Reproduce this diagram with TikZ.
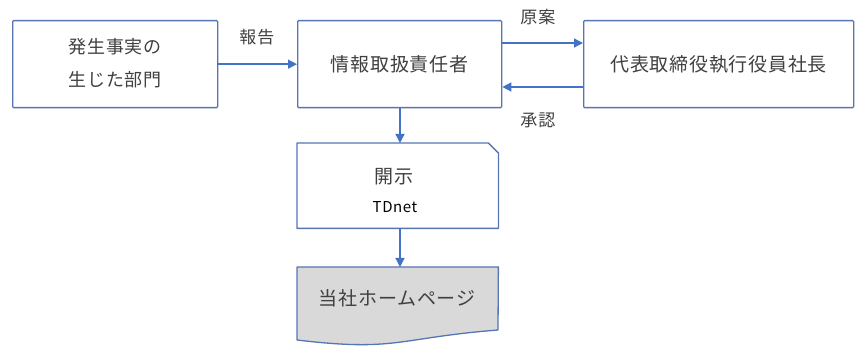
\documentclass[tikz,border=0pt]{standalone}
\usepackage{fontspec}
\setmainfont{Noto Sans CJK JP}
\usetikzlibrary{arrows.meta}
\definecolor{boxline}{HTML}{5575B5}
\definecolor{arrline}{HTML}{4472C4}
\definecolor{txt}{HTML}{404040}
\definecolor{docfill}{HTML}{D9D9D9}
\tikzset{
  box/.style={draw=boxline, line width=1.3pt, fill=white, rounded corners=1pt, minimum height=87pt, inner sep=0pt, text=txt, font=\fontsize{19}{22}\selectfont\addfontfeature{LetterSpace=4}},
  shapeholder/.style={draw=none, inner sep=0pt},
  outline/.style={draw=boxline, line width=1.3pt, line join=round},
  conn/.style={draw=arrline, line width=1.3pt, -{Triangle[length=9pt,width=9pt]}},
  lbl/.style={text=txt, font=\fontsize{17}{19}\selectfont\addfontfeature{LetterSpace=6}, inner sep=0pt}
}
\begin{document}
\begin{tikzpicture}[x=1pt,y=-1pt]
\useasboundingbox (0,0) rectangle (855,347);
% boxes
\node[box, minimum width=205pt, anchor=north west] (dept) at (12,20) {};
\node[text=txt, align=center, font=\fontsize{18}{33}\selectfont\addfontfeature{LetterSpace=4}] at ([yshift=1pt]dept.center) {発生事実の\\生じた部門};
\node[box, minimum width=204pt, anchor=north west] (resp) at (297,20) {情報取扱責任者};
\node[box, minimum width=270pt, anchor=north west] (ceo) at (583,20) {代表取締役執行役員社長};
% disclosure (cut corner)
\node[shapeholder, minimum width=201pt, minimum height=85pt, anchor=north west] (disc) at (297,143) {};
\path[outline, fill=white] (disc.north west) -- ([xshift=-10pt]disc.north east) -- ([yshift=-10pt]disc.north east) -- (disc.south east) -- (disc.south west) -- cycle;
\node[text=txt, font=\fontsize{19}{22}\selectfont\addfontfeature{LetterSpace=4}] at (394,177) {開示};
\node[text=black, font=\fontsize{15}{18}\selectfont\addfontfeature{LetterSpace=4}] at (395,207) {TDnet};
% homepage (document shape)
\node[shapeholder, minimum width=201pt, minimum height=66pt, anchor=north west] (hp) at (297,267) {};
\path[outline, fill=docfill] (hp.north west) -- (hp.north east) -- (498,330)
  .. controls (397,338) and (397,352) .. (297,340) -- cycle;
\node[text=txt, font=\fontsize{19}{22}\selectfont\addfontfeature{LetterSpace=4}] at (397,298) {当社ホームページ};
% connectors
\draw[conn] (dept.east) -- (resp.west);
\draw[conn] (resp.east |- 0,43) -- (ceo.west |- 0,43);
\draw[conn] (ceo.west |- 0,87) -- (resp.east |- 0,87);
\draw[conn] (resp.south -| 400,0) -- (disc.north -| 400,0);
\draw[conn] (disc.south -| 400,0) -- (hp.north -| 400,0);
% labels
\node[lbl] at (257,37) {報告};
\node[lbl] at (538,17) {原案};
\node[lbl] at (538,120) {承認};
\end{tikzpicture}
\end{document}
